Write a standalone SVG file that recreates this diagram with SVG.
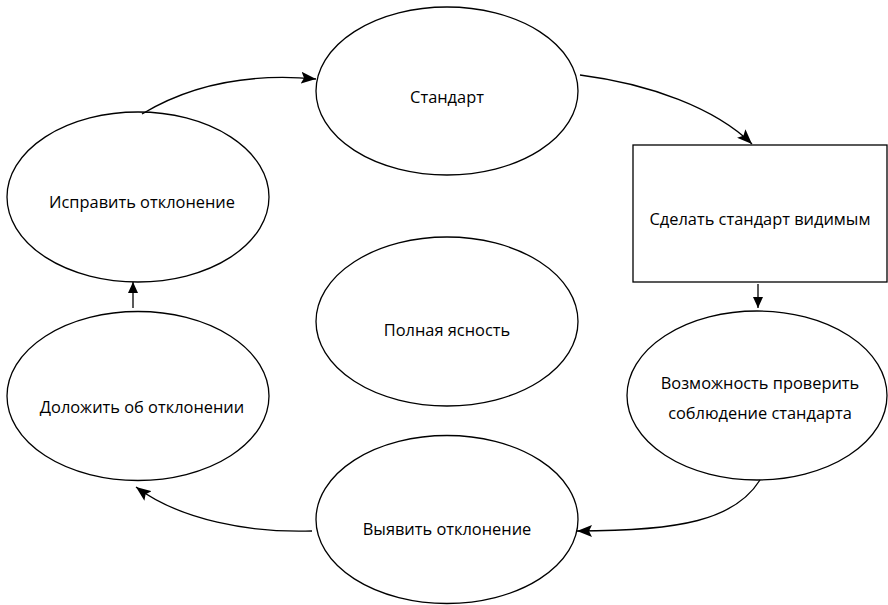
<svg xmlns="http://www.w3.org/2000/svg" width="888" height="605" viewBox="0 0 888 605">
  <style>
    .shape { fill: #ffffff; stroke: #000000; stroke-width: 1.3; }
    .label { font-family: "Open Sans", "Liberation Sans", sans-serif; font-size: 16.4px; fill: #000000; text-anchor: middle; }
    .link { fill: none; stroke: #000000; stroke-width: 1.3; }
    .big { marker-end: url(#head); }
    .small { marker-end: url(#headSmall); }
  </style>
  <defs>
    <marker id="head" markerUnits="userSpaceOnUse" markerWidth="16" markerHeight="12" refX="15" refY="6" orient="auto">
      <path d="M0,0 L15,6 L0,12 L3,6 z" fill="#000000"/>
    </marker>
    <marker id="headSmall" markerUnits="userSpaceOnUse" markerWidth="12" markerHeight="10" refX="11" refY="5" orient="auto">
      <path d="M0,0 L11,5 L0,10 z" fill="#000000"/>
    </marker>
  </defs>
  <rect width="888" height="605" fill="#ffffff"/>

  <g id="standard">
    <ellipse class="shape" cx="447" cy="91" rx="131" ry="84"/>
    <text class="label" x="447" y="103">Стандарт</text>
  </g>
  <g id="make-visible">
    <rect class="shape" x="633" y="145" width="254" height="137"/>
    <text class="label" x="760" y="225">Сделать стандарт видимым</text>
  </g>
  <g id="check-compliance">
    <ellipse class="shape" cx="757" cy="395.5" rx="130" ry="84.5"/>
    <text class="label" x="760" y="389">Возможность проверить</text>
    <text class="label" x="760" y="419">соблюдение стандарта</text>
  </g>
  <g id="detect-deviation">
    <ellipse class="shape" cx="447" cy="519.5" rx="131" ry="84"/>
    <text class="label" x="447" y="535">Выявить отклонение</text>
  </g>
  <g id="report-deviation">
    <ellipse class="shape" cx="138" cy="396" rx="131" ry="84.5"/>
    <text class="label" x="142" y="413">Доложить об отклонении</text>
  </g>
  <g id="fix-deviation">
    <ellipse class="shape" cx="138" cy="197" rx="131" ry="85"/>
    <text class="label" x="142" y="208">Исправить отклонение</text>
  </g>
  <g id="full-clarity">
    <ellipse class="shape" cx="447" cy="321.5" rx="131" ry="84.5"/>
    <text class="label" x="447" y="336">Полная ясность</text>
  </g>

  <g id="connectors">
    <path class="link big" d="M142,114 Q215,70 316,79"/>
    <path class="link big" d="M580,75 C650,84 715,108 752,144"/>
    <path class="link small" d="M758,284 L758,308"/>
    <path class="link big" d="M760,480 C735,520 680,531 577,531"/>
    <path class="link big" d="M312,531 C250,533 180,520 136,487"/>
    <path class="link small" d="M133,308 L133,282"/>
  </g>
</svg>
